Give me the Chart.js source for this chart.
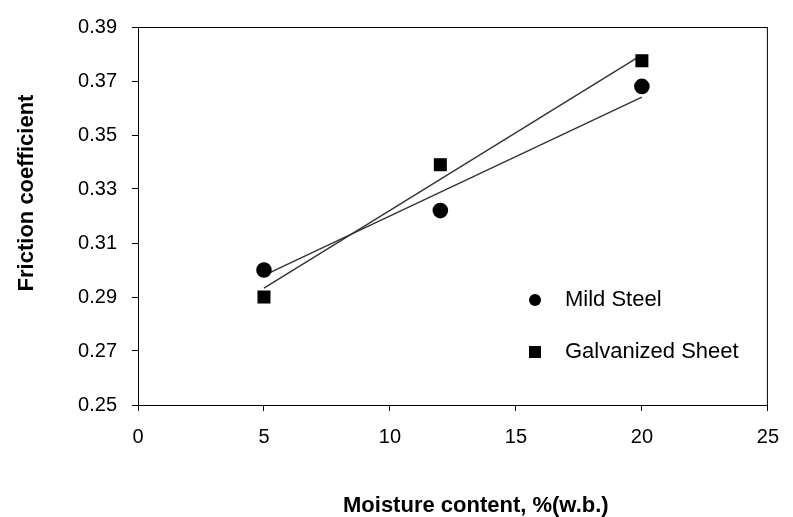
<!DOCTYPE html>
<html>
<head>
<meta charset="utf-8">
<script src="https://cdn.jsdelivr.net/npm/chart.js@4.4.1/dist/chart.umd.min.js"></script>
<style>
  html, body { margin: 0; padding: 0; background: #fff; }
  #wrap { width: 793px; height: 517px; }
</style>
</head>
<body>
<div id="wrap"><canvas id="myChart" width="793" height="517"></canvas></div>
<script>
// Dữ liệu
const moisture = [5, 12, 20];
const mildSteel = [0.300, 0.322, 0.368];
const galvanized = [0.290, 0.339, 0.3775];

// Đường xu hướng (đọc điểm đầu / cuối trên hình)
const trendX = [5, 20];
const mildTrend = [0.298, 0.364];
const galvTrend = [0.2933, 0.3797];

const yTicks = [0.25, 0.27, 0.29, 0.31, 0.33, 0.35, 0.37, 0.39];
const xTicks = [0, 5, 10, 15, 20, 25];

const FONT = '"Liberation Sans", Arial, sans-serif';

function toPoints(xs, ys) {
  return xs.map((x, i) => ({ x: x, y: ys[i] }));
}

// Vẽ khung, tên trục và chú thích
const decor = {
  id: 'decor',
  afterDraw(chart) {
    const c = chart.ctx;
    const a = chart.chartArea;
    c.save();
    c.strokeStyle = '#000';
    c.lineWidth = 1;
    c.strokeRect(a.left + 0.5, a.top + 0.5, a.right - a.left - 1, a.bottom - a.top);

    c.fillStyle = '#000';
    c.font = 'bold 22px ' + FONT;
    c.textAlign = 'left';
    c.textBaseline = 'alphabetic';
    c.fillText('Moisture content, %(w.b.)', 343, 512);

    c.translate(33, 193);
    c.rotate(-Math.PI / 2);
    c.textAlign = 'center';
    c.fillText('Friction coefficient', 0, 0);
    c.restore();

    // chú thích
    c.save();
    c.fillStyle = '#000';
    c.beginPath();
    c.arc(535, 300, 6, 0, Math.PI * 2);
    c.fill();
    c.fillRect(529, 346, 12, 12);
    c.font = '22px ' + FONT;
    c.textAlign = 'left';
    c.textBaseline = 'middle';
    c.fillText('Mild Steel', 565, 300);
    c.fillText('Galvanized Sheet', 565, 352);
    c.restore();
  }
};

var ctx = document.getElementById('myChart').getContext('2d');
var myChart = new Chart(ctx, {
  type: 'scatter',
  data: {
    datasets: [{
      label: 'Mild Steel',
      data: toPoints(moisture, mildSteel),
      pointStyle: 'circle',
      pointRadius: 7.8,
      backgroundColor: '#000',
      borderColor: '#000',
      borderWidth: 0
    }, {
      label: 'Galvanized Sheet',
      data: toPoints(moisture, galvanized),
      pointStyle: 'rect',
      pointRadius: 9.2,
      backgroundColor: '#000',
      borderColor: '#000',
      borderWidth: 0
    }, {
      label: 'Mild trend',
      type: 'line',
      data: toPoints(trendX, mildTrend),
      showLine: true,
      pointRadius: 0,
      borderColor: '#333',
      borderWidth: 1.4,
      fill: false
    }, {
      label: 'Galv trend',
      type: 'line',
      data: toPoints(trendX, galvTrend),
      showLine: true,
      pointRadius: 0,
      borderColor: '#333',
      borderWidth: 1.4,
      fill: false
    }]
  },
  options: {
    responsive: false,
    animation: false,
    layout: { padding: { top: 20, right: 14, left: 0, bottom: 0 } },
    plugins: {
      legend: { display: false },
      tooltip: { enabled: false }
    },
    scales: {
      x: {
        type: 'linear',
        min: 0,
        max: 25,
        afterFit(s) { s.height = 112; },
        afterBuildTicks(s) { s.ticks = xTicks.map(v => ({ value: v })); },
        grid: { display: true, drawOnChartArea: false, drawTicks: true, tickLength: 6, color: '#000' },
        border: { display: true, color: '#000', width: 1 },
        ticks: {
          padding: 14,
          color: '#000',
          font: { family: FONT, size: 20 },
          callback: v => String(v)
        }
      },
      y: {
        min: 0.25,
        max: 0.39,
        afterFit(s) { s.width = 138; },
        afterBuildTicks(s) { s.ticks = yTicks.map(v => ({ value: v })); },
        grid: { display: true, drawOnChartArea: false, drawTicks: true, tickLength: 6, color: '#000' },
        border: { display: true, color: '#000', width: 1 },
        ticks: {
          padding: 15,
          color: '#000',
          font: { family: FONT, size: 20 },
          callback: v => v.toFixed(2)
        }
      }
    }
  },
  plugins: [decor]
});
</script>
</body>
</html>
